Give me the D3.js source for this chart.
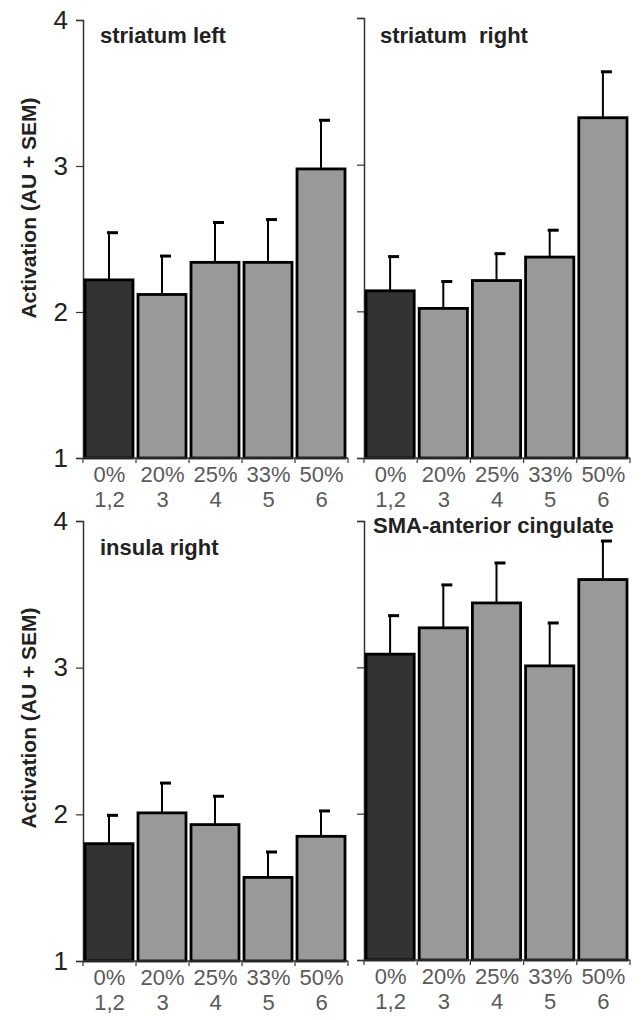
<!DOCTYPE html>
<html>
<head>
<meta charset="utf-8">
<script src="https://cdn.jsdelivr.net/npm/d3@7"></script>
<style>
  body { margin: 0; background: #fff; }
  text { font-family: "Liberation Sans", Arial, sans-serif; }
</style>
</head>
<body>
<div id="chart"></div>
<script>
const categories = ["0%", "20%", "25%", "33%", "50%"];
const conditions = ["1,2", "3", "4", "5", "6"];
const y_ticks = [1, 2, 3, 4];

// mean and mean + SEM
const striatum_left = [2.22, 2.12, 2.34, 2.34, 2.98];
const striatum_left_top = [2.55, 2.39, 2.62, 2.64, 3.32];
const striatum_right = [2.14, 2.02, 2.21, 2.37, 3.32];
const striatum_right_top = [2.38, 2.21, 2.40, 2.56, 3.64];
const insula_right = [1.80, 2.01, 1.93, 1.57, 1.85];
const insula_right_top = [2.00, 2.22, 2.13, 1.75, 2.03];
const sma_cingulate = [3.09, 3.27, 3.44, 3.01, 3.60];
const sma_cingulate_top = [3.36, 3.57, 3.72, 3.31, 3.87];

const panels = [
  { title: "striatum left", values: striatum_left, tops: striatum_left_top,
    x0: 83, x1: 348, y0: 458, y1: 20, labels: true, tx: 100, ty: 43 },
  { title: "striatum\u00a0 right", values: striatum_right, tops: striatum_right_top,
    x0: 364, x1: 630, y0: 458, y1: 18, labels: false, tx: 380, ty: 43 },
  { title: "insula right", values: insula_right, tops: insula_right_top,
    x0: 83, x1: 348, y0: 961, y1: 521, labels: true, tx: 100, ty: 555 },
  { title: "SMA-anterior cingulate", values: sma_cingulate, tops: sma_cingulate_top,
    x0: 364, x1: 630, y0: 960, y1: 521, labels: false, tx: 373, ty: 533 }
];

const svg = d3.select("#chart").append("svg")
  .attr("width", 642)
  .attr("height", 1020);

const draw_panel = (p) => {
  const g = svg.append("g");
  const x = d3.scaleBand().domain(categories).range([p.x0, p.x1]).padding(0);
  const y = d3.scaleLinear().domain([1, 4]).range([p.y0, p.y1]);

  // y axis
  const y_axis = d3.axisLeft(y).tickValues(y_ticks).tickSize(7).tickPadding(8)
    .tickFormat(p.labels ? d3.format("d") : "");
  const ya = g.append("g")
    .attr("transform", `translate(${p.x0},0)`)
    .call(y_axis);
  ya.select(".domain").attr("stroke", "#333").attr("stroke-width", 1.5);
  ya.selectAll(".tick line").attr("stroke", "#333").attr("stroke-width", 1.2);
  ya.selectAll(".tick text").style("font-size", "26px").attr("fill", "#222");

  // bars
  g.selectAll("rect")
    .data(p.values)
    .enter().append("rect")
    .attr("x", (d, i) => x(categories[i]) + 2)
    .attr("y", d => y(d))
    .attr("width", x.bandwidth() - 5)
    .attr("height", d => y(1) - y(d))
    .attr("fill", (d, i) => i === 0 ? "#333333" : "#999999")
    .attr("stroke", "#000")
    .attr("stroke-width", 2.8);

  // error bars
  p.values.forEach((v, i) => {
    const cx = x(categories[i]) + (x.bandwidth() - 1) / 2;
    g.append("line")
      .attr("x1", cx).attr("x2", cx)
      .attr("y1", y(v)).attr("y2", y(p.tops[i]))
      .attr("stroke", "#000").attr("stroke-width", 2);
    g.append("line")
      .attr("x1", cx - 2).attr("x2", cx + 9)
      .attr("y1", y(p.tops[i]) + 1).attr("y2", y(p.tops[i]) + 1)
      .attr("stroke", "#000").attr("stroke-width", 3);
  });

  // x axis
  g.append("line")
    .attr("x1", p.x0).attr("x2", p.x1)
    .attr("y1", y(1)).attr("y2", y(1))
    .attr("stroke", "#333").attr("stroke-width", 1.5);
  categories.concat(["end"]).forEach((c, i) => {
    const tx = i < categories.length ? x(c) : p.x1;
    g.append("line")
      .attr("x1", tx).attr("x2", tx)
      .attr("y1", y(1)).attr("y2", y(1) + 5)
      .attr("stroke", "#333").attr("stroke-width", 1.2);
  });

  categories.forEach((c, i) => {
    const cx = x(c) + x.bandwidth() / 2;
    g.append("text")
      .attr("x", cx).attr("y", y(1) + 24)
      .attr("text-anchor", "middle")
      .style("font-size", "22px")
      .attr("fill", "#5a5a5a")
      .text(c);
    g.append("text")
      .attr("x", cx).attr("y", y(1) + 49)
      .attr("text-anchor", "middle")
      .style("font-size", "22px")
      .attr("fill", "#5a5a5a")
      .text(conditions[i]);
  });

  // panel title
  g.append("text")
    .attr("x", p.tx).attr("y", p.ty)
    .style("font-size", "22px")
    .style("font-weight", "bold")
    .attr("fill", "#222")
    .text(p.title);
};

panels.forEach(draw_panel);

// y axis titles
[208, 718].forEach(cy => {
  svg.append("text")
    .attr("transform", `translate(36,${cy}) rotate(-90)`)
    .attr("text-anchor", "middle")
    .style("font-size", "21px")
    .style("font-weight", "bold")
    .attr("fill", "#222")
    .text("Activation (AU + SEM)");
});
</script>
</body>
</html>
